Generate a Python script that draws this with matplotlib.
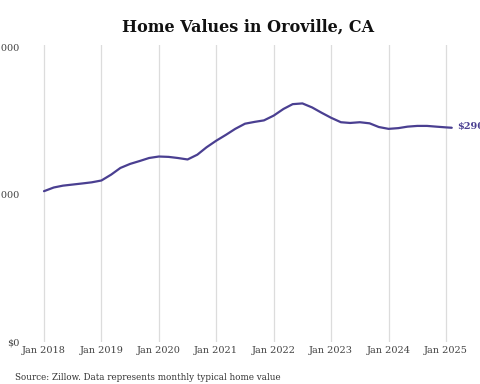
import numpy as np
import matplotlib
matplotlib.use("Agg")
import matplotlib.pyplot as plt

# time as fractional year, value in dollars
dates = [2018.0, 2018.17, 2018.33, 2018.5, 2018.67, 2018.83, 2019.0, 2019.17,
         2019.33, 2019.5, 2019.67, 2019.83, 2020.0, 2020.17, 2020.33, 2020.5,
         2020.67, 2020.83, 2021.0, 2021.17, 2021.33, 2021.5, 2021.67, 2021.83,
         2022.0, 2022.17, 2022.33, 2022.5, 2022.67, 2022.83, 2023.0, 2023.17,
         2023.33, 2023.5, 2023.67, 2023.83, 2024.0, 2024.17, 2024.33, 2024.5,
         2024.67, 2024.83, 2025.0, 2025.1]
values = [204500, 209500, 212000, 213500, 215000, 216500, 219000, 227000,
          236000, 241500, 245500, 249500, 251500, 251000, 249500, 247500,
          254000, 264000, 273000, 281000, 289000, 296000, 298500, 300500,
          307000, 316000, 322500, 323500, 318000, 311000, 304000, 298000,
          297000, 298000, 296500, 291500, 289000, 290000, 292000, 293000,
          293000, 292000, 291000, 290500]
year_ticks = [2018, 2019, 2020, 2021, 2022, 2023, 2024, 2025]
year_labels = ["Jan " + str(y) for y in year_ticks]
y_ticks = [0, 200000, 400000]
y_labels = ["$0", "$200,000", "$400,000"]
last_label = "$290,520"

plt.rcParams["font.family"] = "DejaVu Serif"

fig = plt.figure(figsize=(4.8, 3.84), dpi=100)
ax = fig.add_axes([24 / 480, 1 - 342 / 384, (455 - 24) / 480, (342 - 45) / 384])

ax.plot(dates, values, color="#4a3f91", lw=1.6, solid_capstyle="round")

px_year = (446 - 44) / 7.0
ax.set_xlim(2018 - 20 / px_year, 2018 + (455 - 44) / px_year)
ax.set_ylim(0, 400000 * (342 - 45) / (342 - 47))

ax.set_xticks(year_ticks)
ax.set_xticklabels(year_labels)
ax.set_yticks(y_ticks)
ax.set_yticklabels(y_labels)
ax.tick_params(axis="both", length=0, labelsize=7, labelcolor="#444444")
ax.tick_params(axis="x", pad=3)
ax.tick_params(axis="y", pad=3)

ax.grid(axis="x", color="#dcdcdc", lw=0.9)
ax.set_axisbelow(True)
for s in ax.spines.values():
    s.set_visible(False)

ax.annotate(last_label, xy=(dates[-1], values[-1]), xytext=(4, 1),
            textcoords="offset points", va="center", ha="left",
            fontsize=7, color="#4a3f91", fontweight="bold",
            annotation_clip=False)

fig.text(248 / 480, 1 - 27 / 384, "Home Values in Oroville, CA",
         ha="center", va="center", fontsize=11.5, fontweight="bold", color="#111111")
fig.text(15 / 480, 1 - 377 / 384,
         "Source: Zillow. Data represents monthly typical home value",
         ha="left", va="center", fontsize=6.3, color="#333333")

fig.savefig("out.png", dpi=100)
